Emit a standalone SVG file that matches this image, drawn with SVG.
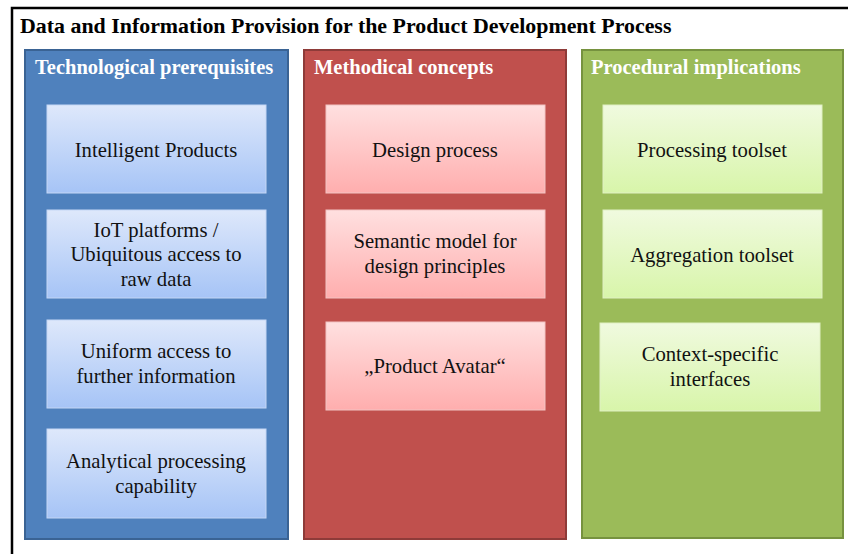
<svg xmlns="http://www.w3.org/2000/svg" width="848" height="554" viewBox="0 0 848 554">
<defs>
<linearGradient id="gb" x1="0" y1="0" x2="0" y2="1"><stop offset="0" stop-color="#DEE8FB"/><stop offset="1" stop-color="#A6C4F6"/></linearGradient>
<linearGradient id="gr" x1="0" y1="0" x2="0" y2="1"><stop offset="0" stop-color="#FFE0E0"/><stop offset="1" stop-color="#FFAEAE"/></linearGradient>
<linearGradient id="gg" x1="0" y1="0" x2="0" y2="1"><stop offset="0" stop-color="#F0FADF"/><stop offset="1" stop-color="#D8F5AA"/></linearGradient>
<style>
.title{font-family:"Liberation Serif","Times New Roman",serif;font-weight:bold;font-size:21.9px;fill:#000}
.head{font-family:"Liberation Serif","Times New Roman",serif;font-weight:bold;font-size:20.5px;fill:#fff}
.t{font-family:"Liberation Serif","Times New Roman",serif;font-size:20.7px;fill:#111;text-anchor:middle}
.pb{fill:#4F81BD;stroke:#3A6394;stroke-width:2}
.pr{fill:#C0504D;stroke:#8E3B39;stroke-width:2}
.pg{fill:#9BBB59;stroke:#76923F;stroke-width:2}
.bb{fill:url(#gb);stroke:#C5D7F5;stroke-width:1}
.br{fill:url(#gr);stroke:#F2C4C4;stroke-width:1}
.bg{fill:url(#gg);stroke:#E0F0C4;stroke-width:1}
</style>
</defs>
<rect width="848" height="554" fill="#fff"/>
<rect x="12" y="8" width="850" height="560" fill="none" stroke="#000" stroke-width="2.5"/>
<text class="title" x="20" y="33">Data and Information Provision for the Product Development Process</text>
<g id="panel-tech">
<rect class="pb" x="25" y="50" width="263" height="489"/>
<text class="head" x="35" y="74">Technological prerequisites</text>
</g>
<g id="panel-method">
<rect class="pr" x="304" y="50" width="262" height="489"/>
<text class="head" x="314" y="74">Methodical concepts</text>
</g>
<g id="panel-proc">
<rect class="pg" x="582" y="50" width="261" height="488"/>
<text class="head" x="591" y="74">Procedural implications</text>
</g>
<g id="n-intelligent"><rect class="bb" x="47" y="105" width="219" height="88"/><text class="t" x="156" y="157">Intelligent Products</text></g>
<g id="n-iot"><rect class="bb" x="47" y="210" width="219" height="88"/><text class="t" x="156" y="237">IoT platforms /</text><text class="t" x="156" y="261">Ubiquitous access to</text><text class="t" x="156" y="286">raw data</text></g>
<g id="n-uniform"><rect class="bb" x="47" y="320" width="219" height="88"/><text class="t" x="156" y="358">Uniform access to</text><text class="t" x="156" y="383">further information</text></g>
<g id="n-analytical"><rect class="bb" x="47" y="429" width="219" height="89"/><text class="t" x="156" y="468">Analytical processing</text><text class="t" x="156" y="493">capability</text></g>
<g id="n-design"><rect class="br" x="326" y="105" width="219" height="88"/><text class="t" x="435" y="157">Design process</text></g>
<g id="n-semantic"><rect class="br" x="326" y="210" width="219" height="88"/><text class="t" x="435" y="248">Semantic model for</text><text class="t" x="435" y="273">design principles</text></g>
<g id="n-avatar"><rect class="br" x="326" y="322" width="219" height="88"/><text class="t" x="435" y="373">„Product Avatar“</text></g>
<g id="n-processing"><rect class="bg" x="603" y="105" width="219" height="88"/><text class="t" x="712" y="157">Processing toolset</text></g>
<g id="n-aggregation"><rect class="bg" x="603" y="210" width="219" height="88"/><text class="t" x="712" y="262">Aggregation toolset</text></g>
<g id="n-context"><rect class="bg" x="600" y="323" width="220" height="88"/><text class="t" x="710" y="361">Context-specific</text><text class="t" x="710" y="386">interfaces</text></g>
<g id="connectors"/>
</svg>
